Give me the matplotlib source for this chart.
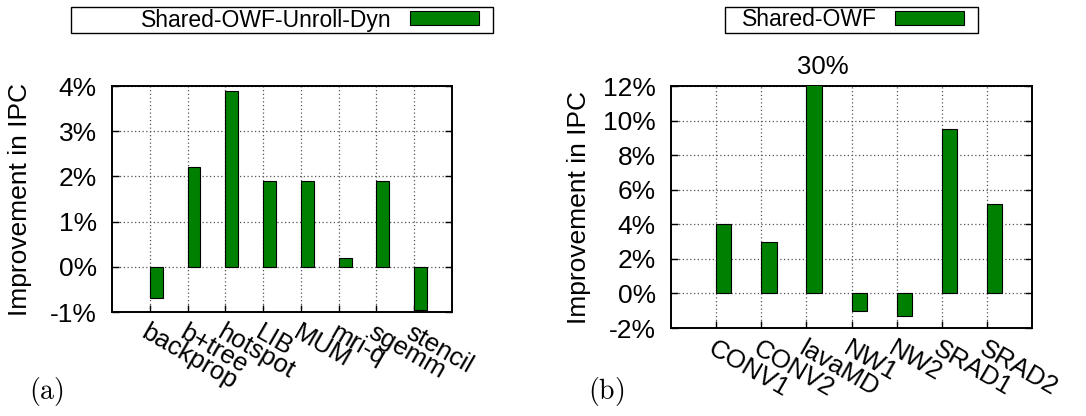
import matplotlib.pyplot as plt
import numpy as np

plt.rcParams["font.family"] = ["Liberation Sans", "DejaVu Sans"]
plt.rcParams["mathtext.fontset"] = "cm"

# (a) data
bench_a = ["backprop", "b+tree", "hotspot", "LIB", "MUM", "mri-q", "sgemm", "stencil"]
ipc_a = [-0.7, 2.2, 3.9, 1.9, 1.9, 0.2, 1.9, -0.95]
label_a = "Shared-OWF-Unroll-Dyn"
yticks_a = [-1, 0, 1, 2, 3, 4]

# (b) data
bench_b = ["CONV1", "CONV2", "lavaMD", "NW1", "NW2", "SRAD1", "SRAD2"]
ipc_b = [4.0, 3.0, 30.0, -1.0, -1.3, 9.5, 5.2]
label_b = "Shared-OWF"
yticks_b = [-2, 0, 2, 4, 6, 8, 10, 12]

GREEN = "#008000"
W, H = 1086, 416
fig = plt.figure(figsize=(W / 100, H / 100), dpi=100)


def fbox(x0, y0, x1, y1):
    # pixel box -> figure fraction rect
    return [x0 / W, 1 - y1 / H, (x1 - x0) / W, (y1 - y0) / H]


def draw_panel(ax, names, vals, yticks, ylim):
    x = np.arange(1, len(names) + 1)
    ax.bar(x, vals, width=0.34, align="edge", color=GREEN,
           edgecolor="black", linewidth=0.8, zorder=3)
    ax.set_xlim(0, len(names) + 1)
    ax.set_ylim(*ylim)
    ax.set_xticks(x)
    ax.set_xticklabels(names, rotation=-30, ha="left", va="top",
                       rotation_mode="anchor", fontsize=18.5)
    ax.set_yticks(yticks)
    ax.set_yticklabels([f"{t}%" for t in yticks], fontsize=19)
    ax.tick_params(direction="in", length=5, width=1, pad=11,
                   top=False, right=True)
    ax.tick_params(axis="x", pad=6)
    ax.grid(True, color="#555555", linestyle=(0, (1, 2)), linewidth=0.9, zorder=0)
    for s in ax.spines.values():
        s.set_linewidth(1.4)
    ax.set_ylabel("Improvement in IPC", fontsize=19)


ax1 = fig.add_axes(fbox(112, 86, 452, 312))
draw_panel(ax1, bench_a, ipc_a, yticks_a, (-1, 4))
ax1.yaxis.set_label_coords(-0.235, 0.5)

ax2 = fig.add_axes(fbox(671, 86, 1032, 328))
draw_panel(ax2, bench_b, ipc_b, yticks_b, (-2, 12))
ax2.yaxis.set_label_coords(-0.222, 0.5)
top = ipc_b.index(max(ipc_b))
ax2.annotate(f"{max(ipc_b):.0f}%", xy=(top + 1.37, 12), xytext=(0, 5),
             textcoords="offset points", ha="center", va="bottom",
             fontsize=18.5, annotation_clip=False)

# legend boxes
for (x0, x1), lab, ax in [((71, 493), label_a, ax1), ((725, 978), label_b, ax2)]:
    fig.patches.append(plt.Rectangle((x0 / W, 1 - 33 / H), (x1 - x0) / W, 26 / H,
                                     transform=fig.transFigure, fill=False,
                                     edgecolor="black", linewidth=1.0))
    h = plt.Rectangle((0, 0), 1, 1, facecolor=GREEN, edgecolor="black", linewidth=0.8)
    fig.legend([h], [lab], loc="center right",
               bbox_to_anchor=((x1 - 14) / W, 1 - 20 / H),
               frameon=False, markerfirst=False, fontsize=16.5,
               handlelength=3.0, handleheight=0.55, handletextpad=0.8,
               borderpad=0, borderaxespad=0)

fig.text(46 / W, 1 - 392 / H, r"$\mathrm{(a)}$", fontsize=20, ha="center", va="center")
fig.text(606 / W, 1 - 392 / H, r"$\mathrm{(b)}$", fontsize=20, ha="center", va="center")

fig.savefig("out.png", dpi=100)
